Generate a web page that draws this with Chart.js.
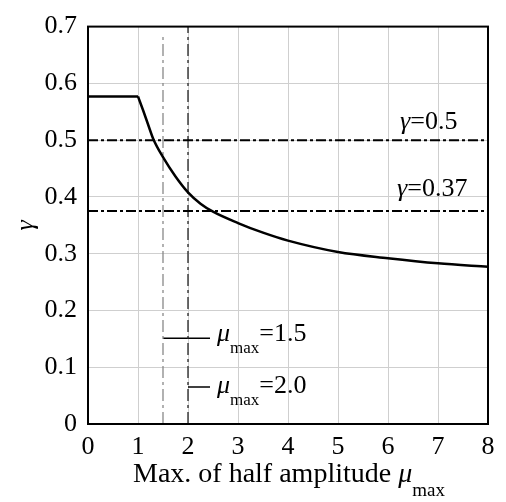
<!DOCTYPE html>
<html>
<head>
<meta charset="utf-8">
<script src="https://cdn.jsdelivr.net/npm/chart.js@4.4.1/dist/chart.umd.min.js"></script>
<style>
  html, body { margin: 0; padding: 0; background: #fff; }
  #wrap { width: 506px; height: 502px; }
</style>
</head>
<body>
<div id="wrap"><canvas id="myChart" width="506" height="502"></canvas></div>
<script>
// values
var flatMu = [0, 1];
var flatGamma = [0.577, 0.577];
var muMax = [1, 1.1, 1.2, 1.31, 1.5, 1.75, 2, 2.25, 2.5, 3, 3.5, 4, 5, 6, 7, 8];
var gammaVals = [0.577, 0.553, 0.528, 0.501, 0.470, 0.436, 0.408, 0.388, 0.374, 0.354, 0.337, 0.323, 0.303, 0.292, 0.283, 0.277];
var gammaLimits = [0.5, 0.375];
var muLimits = [1.5, 2.0];
var xTicks = [0, 1, 2, 3, 4, 5, 6, 7, 8];
var yTicks = [0, 0.1, 0.2, 0.3, 0.4, 0.5, 0.6, 0.7];

var serif = "'Liberation Serif', 'Times New Roman', serif";
var dashDot = [10, 3, 3, 3];

function pts(xs, ys) { return xs.map(function (v, i) { return { x: v, y: ys[i] }; }); }

var datasets = [{
  data: pts(flatMu, flatGamma),
  borderColor: '#000',
  borderWidth: 2.5,
  pointRadius: 0
}, {
  data: pts(muMax, gammaVals),
  borderColor: '#000',
  borderWidth: 2.5,
  pointRadius: 0,
  cubicInterpolationMode: 'monotone'
}];

gammaLimits.forEach(function (g) {
  datasets.push({
    data: [{ x: 0, y: g }, { x: 8, y: g }],
    borderColor: '#000',
    borderWidth: 2,
    borderDash: dashDot,
    pointRadius: 0
  });
});

// vertical limits mu = 1.5 (grey) and mu = 2.0 (black)
datasets.push({
  data: [{ x: muLimits[0], y: 0 }, { x: muLimits[0], y: 0.686 }],
  borderColor: '#888',
  borderWidth: 1.3,
  borderDash: [12, 4, 3, 4],
  pointRadius: 0
});
datasets.push({
  data: [{ x: muLimits[1], y: 0 }, { x: muLimits[1], y: 0.7 }],
  borderColor: '#222',
  borderWidth: 1.3,
  borderDash: [12, 4, 3, 4],
  pointRadius: 0
});
// leader lines for the labels
datasets.push({
  data: [{ x: muLimits[0], y: 0.151 }, { x: 2.44, y: 0.151 }],
  borderColor: '#000', borderWidth: 1.5, pointRadius: 0
});
datasets.push({
  data: [{ x: muLimits[1], y: 0.065 }, { x: 2.44, y: 0.065 }],
  borderColor: '#000', borderWidth: 1.5, pointRadius: 0
});

function drawParts(ctx, x, y, parts) {
  parts.forEach(function (p) {
    ctx.font = p[1];
    ctx.fillText(p[0], x, y + (p[2] || 0));
    x += ctx.measureText(p[0]).width;
  });
}

var textPlugin = {
  id: 'texts',
  afterDraw: function (chart) {
    var ctx = chart.ctx, a = chart.chartArea;
    var xs = chart.scales.x, ys = chart.scales.y;
    ctx.save();
    // top + right frame
    ctx.strokeStyle = '#000';
    ctx.lineWidth = 2;
    ctx.strokeRect(a.left, a.top, a.right - a.left, a.bottom - a.top);

    ctx.fillStyle = '#000';
    ctx.textBaseline = 'alphabetic';
    ctx.textAlign = 'left';
    var it = 'italic 26px ' + serif, nm = '26px ' + serif, sm = '17px ' + serif;

    drawParts(ctx, xs.getPixelForValue(6.24), ys.getPixelForValue(0.519), [['γ', it], ['=0.5', nm]]);
    drawParts(ctx, xs.getPixelForValue(6.18), ys.getPixelForValue(0.402), [['γ', it], ['=0.37', nm]]);

    drawParts(ctx, xs.getPixelForValue(2.58), ys.getPixelForValue(0.146), [['μ', it], ['max', sm, 12], ['=1.5', nm]]);
    drawParts(ctx, xs.getPixelForValue(2.58), ys.getPixelForValue(0.054), [['μ', it], ['max', sm, 12], ['=2.0', nm]]);

    // x axis title
    var ti = 'italic 28px ' + serif, tn = '28px ' + serif;
    drawParts(ctx, a.left + 45, a.bottom + 58, [['Max. of half amplitude ', tn], ['μ', ti], ['max', '19px ' + serif, 14]]);

    // y axis title
    ctx.translate(26, (a.top + a.bottom) / 2);
    ctx.rotate(-Math.PI / 2);
    ctx.textAlign = 'center';
    ctx.textBaseline = 'middle';
    ctx.font = it;
    ctx.fillText('γ', 0, 0);
    ctx.restore();
  }
};

var ctx = document.getElementById('myChart').getContext('2d');
var myChart = new Chart(ctx, {
  type: 'line',
  data: { datasets: datasets },
  options: {
    responsive: false,
    animation: false,
    layout: { padding: { left: 0, right: 18, top: 25, bottom: 0 } },
    plugins: {
      legend: { display: false },
      tooltip: { enabled: false }
    },
    scales: {
      x: {
        type: 'linear',
        min: 0,
        max: 8,
        afterFit: function (s) { s.height = 78; },
        afterBuildTicks: function (s) { s.ticks = xTicks.map(function (v) { return { value: v }; }); },
        grid: { color: '#cfcfcf', lineWidth: 1, drawTicks: false },
        border: { display: true, color: '#000', width: 2 },
        ticks: {
          color: '#000',
          padding: 8,
          maxRotation: 0,
          font: { family: serif, size: 26 },
          callback: function (v) { return String(v); }
        }
      },
      y: {
        min: 0,
        max: 0.7,
        afterFit: function (s) { s.width = 88; },
        afterBuildTicks: function (s) { s.ticks = yTicks.map(function (v) { return { value: v }; }); },
        grid: { color: '#cfcfcf', lineWidth: 1, drawTicks: false },
        border: { display: true, color: '#000', width: 2 },
        ticks: {
          color: '#000',
          padding: 11,
          font: { family: serif, size: 26 },
          callback: function (v) { return v === 0 ? '0' : v.toFixed(1); }
        }
      }
    }
  },
  plugins: [textPlugin]
});
</script>
</body>
</html>
